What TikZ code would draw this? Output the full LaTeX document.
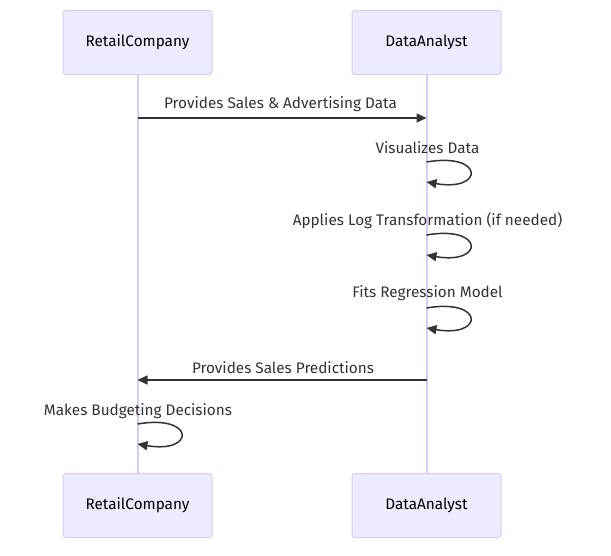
\documentclass[tikz,border=0pt]{standalone}
\usepackage{fontspec}
\setmainfont{Fira Sans}
\usetikzlibrary{arrows.meta, positioning}
\definecolor{actorfill}{HTML}{ECECFF}
\definecolor{actorline}{HTML}{D8CCF3}
\definecolor{msgcolor}{HTML}{333333}

\begin{document}
\begin{tikzpicture}[x=1pt, y=1pt,
  actor/.style={draw=actorline, fill=actorfill, rounded corners=3pt, line width=1pt,
    minimum width=149pt, minimum height=64pt, font=\fontsize{15.3}{18}\selectfont},
  lifeline/.style={draw=actorline, line width=2pt},
  msg/.style={draw=msgcolor, line width=1.5pt, -{Triangle[length=10pt,width=9pt]}},
  msglabel/.style={text=msgcolor, font=\fontsize{15.3}{18}\selectfont}]
\useasboundingbox (0,0) rectangle (611,-555);

% Lifelines
\draw[lifeline] (137.5,-73) -- (137.5,-473);
\draw[lifeline] (426.5,-73) -- (426.5,-473);

% Actors top and bottom
\node[actor] (rcTop) at (137.5,-42.5) {RetailCompany};
\node[actor] (daTop) at (426.5,-42.5) {DataAnalyst};
\node[actor] (rcBot) at (137.5,-505.5) {RetailCompany};
\node[actor] (daBot) at (426.5,-505.5) {DataAnalyst};

% Provides data
\coordinate (rcA) at (137.5,-118);
\coordinate (daA) at (426.5,-118);
\node[msglabel] (lblA) at (280.5,-104.5) {Provides Sales \& Advertising Data};
\draw[msg] (rcA) -- (daA);

% Self messages of the analyst
\foreach \y/\name/\txt in {162/vis/Visualizes Data, 235/log/Applies Log Transformation (if needed), 308/fit/Fits Regression Model} {
    \node[msglabel] (lbl\name) at (427.5,-\y+14.5) {\txt};
    \coordinate (\name S) at (426.5,-\y);
    \coordinate (\name E) at (426.5,-\y-20);
    \draw[msg] (\name S) .. controls +(58,10) and +(58,-10) .. (\name E);
}

% Predictions back
\coordinate (daB) at (426.5,-380);
\coordinate (rcB) at (137.5,-380);
\node[msglabel] (lblB) at (283,-367.5) {Provides Sales Predictions};
\draw[msg] (daB) -- (rcB);

% Budgeting decisions
\node[msglabel] (lblC) at (138,-411.5) {Makes Budgeting Decisions};
\coordinate (budS) at (137.5,-424);
\coordinate (budE) at (137.5,-444);
\draw[msg] (budS) .. controls +(58,10) and +(58,-10) .. (budE);

\end{tikzpicture}
\end{document}
